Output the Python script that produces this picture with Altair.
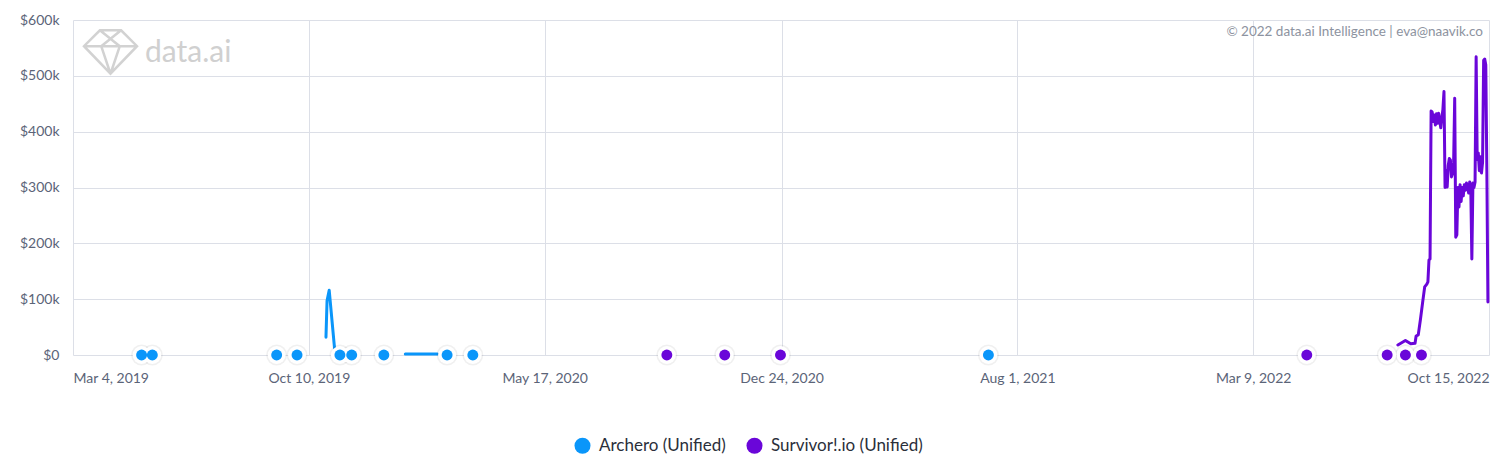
import altair as alt
import pandas as pd

# ---------------- data ----------------
series_names = ["Archero (Unified)", "Survivor!.io (Unified)"]
series_colors = ["#0a96fa", "#6a06d9"]

x_tick_dates = ["2019-03-04", "2019-10-10", "2020-05-17", "2020-12-24",
                "2021-08-01", "2022-03-09", "2022-10-15"]
y_tick_values = [0, 100000, 200000, 300000, 400000, 500000, 600000]

archero_point_dates = ["2019-05-07", "2019-05-17", "2019-09-10", "2019-09-29",
                       "2019-11-08", "2019-11-19", "2019-12-19", "2020-02-16",
                       "2020-03-11", "2021-07-05"]
survivor_point_dates = ["2020-09-08", "2020-11-01", "2020-12-23", "2022-04-28",
                        "2022-07-12", "2022-07-29", "2022-08-13"]

archero_spike_dates = ["2019-10-26", "2019-10-27", "2019-10-29", "2019-11-03"]
archero_spike_values = [32000, 97000, 116000, 12000]
archero_flat_dates = ["2020-01-08", "2020-02-07"]
archero_flat_values = [2000, 2000]

survivor_dates = [
    "2022-07-22", "2022-07-29", "2022-08-03", "2022-08-07", "2022-08-08",
    "2022-08-10", "2022-08-12", "2022-08-14", "2022-08-16", "2022-08-18",
    "2022-08-19", "2022-08-20", "2022-08-21", "2022-08-22", "2022-08-23",
    "2022-08-24", "2022-08-25", "2022-08-26", "2022-08-27", "2022-08-28",
    "2022-08-29", "2022-08-30", "2022-08-31", "2022-09-01", "2022-09-02",
    "2022-09-03", "2022-09-04", "2022-09-05", "2022-09-06", "2022-09-07",
    "2022-09-08", "2022-09-09", "2022-09-10", "2022-09-11", "2022-09-12",
    "2022-09-13", "2022-09-14", "2022-09-15", "2022-09-16", "2022-09-17",
    "2022-09-18", "2022-09-19", "2022-09-20", "2022-09-21", "2022-09-22",
    "2022-09-23", "2022-09-24", "2022-09-25", "2022-09-26", "2022-09-27",
    "2022-09-28", "2022-09-29", "2022-09-30", "2022-10-01", "2022-10-02",
    "2022-10-03", "2022-10-04", "2022-10-05", "2022-10-06", "2022-10-07",
    "2022-10-08", "2022-10-09", "2022-10-10", "2022-10-11", "2022-10-12",
    "2022-10-13", "2022-10-14",
]
survivor_values = [
    18000, 26000, 20000, 21000, 34000,
    36000, 63000, 93000, 122000, 127000,
    131000, 170000, 172000, 437000, 435000,
    418000, 430000, 412000, 432000, 415000,
    433000, 420000, 407000, 425000, 440000,
    472000, 300000, 331000, 301000, 340000,
    352000, 349000, 319000, 325000, 345000,
    460000, 211000, 215000, 300000, 265000,
    305000, 275000, 300000, 285000, 305000,
    295000, 308000, 304000, 290000, 310000,
    300000, 172000, 308000, 300000, 310000,
    534000, 350000, 362000, 330000, 355000,
    326000, 345000, 528000, 530000, 520000,
    330000, 95000,
]

copyright_text = "© 2022 data.ai Intelligence | eva@naavik.co"
logo_text = "data.ai"

# ---------------- tables ----------------
line_rows = []
for d, v in zip(archero_spike_dates, archero_spike_values):
    line_rows.append({"date": d, "value": v, "line_series": series_names[0], "seg": "a1"})
for d, v in zip(archero_flat_dates, archero_flat_values):
    line_rows.append({"date": d, "value": v, "line_series": series_names[0], "seg": "a2"})
for d, v in zip(survivor_dates, survivor_values):
    line_rows.append({"date": d, "value": v, "line_series": series_names[1], "seg": "s1"})
line_df = pd.DataFrame(line_rows)

pt_rows = [{"date": d, "value": 0, "series": series_names[0]} for d in archero_point_dates]
pt_rows += [{"date": d, "value": 0, "series": series_names[1]} for d in survivor_point_dates]
pt_df = pd.DataFrame(pt_rows)

W, H = 1416, 335
FONT = "Lato"
LABEL_COLOR = "#5b6478"
GRID = "#dcdfe7"

def dt(s):
    y, m, d = (int(p) for p in s.split("-"))
    return alt.DateTime(year=y, month=m, date=d, utc=True)

x_enc = alt.X(
    "date:T",
    scale=alt.Scale(type="utc", domain=[dt(x_tick_dates[0]), dt(x_tick_dates[-1])]),
    axis=alt.Axis(
        title=None, values=[dt(s) for s in x_tick_dates],
        labelExpr="utcFormat(datum.value, '%b %-d, %Y')",
        labelFlush=True, grid=True, gridColor=GRID, domain=False,
        ticks=False, labelPadding=16, labelFontSize=14, labelColor=LABEL_COLOR,
        labelFont=FONT,
    ),
)
y_enc = alt.Y(
    "value:Q",
    scale=alt.Scale(domain=[0, 600000], nice=False),
    axis=alt.Axis(
        title=None, values=y_tick_values,
        labelExpr="datum.value == 0 ? '$0' : '$' + (datum.value / 1000) + 'k'",
        grid=True, gridColor=GRID, domain=False, ticks=False, labelPadding=14,
        labelFontSize=14, labelColor=LABEL_COLOR, labelFont=FONT,
    ),
)

# stroke scale takes its domain from the data (sorted), so it is not merged
# with the explicit-domain colour legend of the dots
lines = alt.Chart(line_df).mark_line(strokeWidth=3, strokeJoin="round", strokeCap="round").encode(
    x=x_enc, y=y_enc,
    stroke=alt.Stroke("line_series:N", scale=alt.Scale(range=series_colors), legend=None),
    detail="seg:N",
)

shadow = alt.Chart(pt_df).mark_circle(size=440, color="#000000", opacity=0.06).encode(
    x="date:T", y="value:Q")
halo = alt.Chart(pt_df).mark_circle(size=320, color="#ffffff", opacity=1).encode(
    x="date:T", y="value:Q")
dots = alt.Chart(pt_df).mark_circle(size=120, opacity=1).encode(
    x="date:T", y="value:Q",
    color=alt.Color(
        "series:N", scale=alt.Scale(domain=series_names, range=series_colors),
        legend=alt.Legend(
            title=None, orient="none", direction="horizontal", legendX=501, legendY=417,
            symbolType="circle", symbolSize=256, symbolStrokeWidth=0, symbolOpacity=1,
            labelFontSize=17, labelFont=FONT, labelColor="#2b2f3a",
            labelOffset=8, columnPadding=20, padding=0,
        ),
    ),
)

one = pd.DataFrame({"k": [0]})
gem_path = ("M-0.4,-0.82 L0.4,-0.82 L1,-0.22 L0,0.82 L-1,-0.22 Z "
            "M-1,-0.22 L1,-0.22 M-0.4,-0.82 L0.35,-0.22 M0.4,-0.82 L-0.35,-0.22 "
            "M-0.35,-0.22 L0,0.82 M0.35,-0.22 L0,0.82")
gem = alt.Chart(one).mark_point(
    shape=gem_path, size=2809, filled=False, stroke="#d2d2d2", strokeWidth=2.5, opacity=1
).encode(x=alt.value(37.5), y=alt.value(32))
logo = alt.Chart(one).mark_text(
    text=logo_text, font=FONT, fontSize=30, color="#d0d0d0", align="left",
    baseline="alphabetic",
).encode(x=alt.value(72), y=alt.value(42))
copyright_mark = alt.Chart(one).mark_text(
    text=copyright_text, font=FONT, fontSize=13.5, color="#8d93a0", align="right",
    baseline="middle",
).encode(x=alt.value(W - 6), y=alt.value(12))

chart = alt.layer(gem, logo, copyright_mark, lines, shadow, halo, dots).properties(
    width=W, height=H,
    autosize=alt.AutoSizeParams(type="none"),
    padding={"left": 65, "top": 12, "right": 3, "bottom": 104},
).configure_view(stroke=None)

chart.save("out.html", embed_options={"renderer": "svg", "actions": False})
